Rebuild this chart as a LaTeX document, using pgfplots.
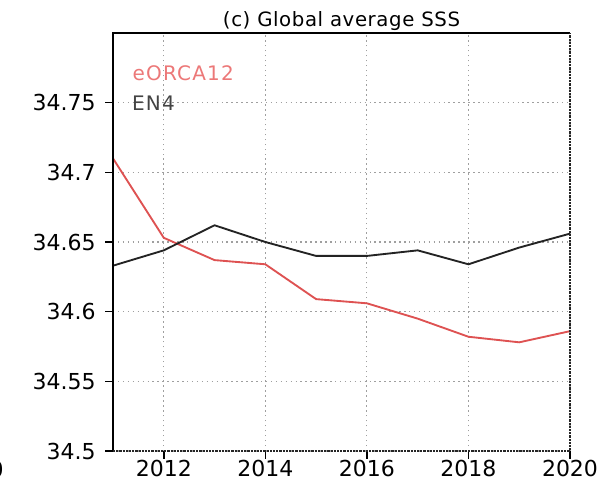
\documentclass[border=0pt]{standalone}
\usepackage{pgfplots}
\pgfplotsset{compat=1.18}
\usepackage{fontspec}
\setmainfont{DejaVu Sans}
\newfontfamily\legfont[LetterSpace=6]{DejaVu Sans}
\newfontfamily\titfont[LetterSpace=3]{DejaVu Sans}
\definecolor{orcared}{RGB}{222,82,82}
\definecolor{orcatext}{RGB}{236,120,120}
\definecolor{enblack}{RGB}{35,35,35}
\begin{document}
\begin{tikzpicture}
\begin{axis}[
  scale only axis,
  width=342.75pt, height=313.5pt,
  xmin=2011, xmax=2020, ymin=34.5, ymax=34.8,
  xtick={2012,2014,2016,2018,2020},
  xticklabels={2012,2014,2016,2018,2020},
  ytick={34.5,34.55,34.6,34.65,34.7,34.75},
  yticklabels={34.5,34.55,34.6,34.65,34.7,34.75},
  tick pos=left, tick align=outside,
  major tick length=6pt,
  tick style={black, line width=1.1pt},
  tick label style={font=\fontsize{16.5}{18}\selectfont},
  xticklabel style={yshift=3pt},
  yticklabel style={xshift=-3.5pt},
  grid=major,
  grid style={gray!75, dash pattern=on 1.1pt off 2.6pt, line width=0.8pt},
  axis line style={draw=none},
  clip=false,
]
\addplot[orcared, line width=1.4pt] coordinates {
(2011,34.710) (2012,34.653) (2013,34.637) (2014,34.634) (2015,34.609)
(2016,34.606) (2017,34.595) (2018,34.582) (2019,34.578) (2020,34.586)};
\addplot[enblack, line width=1.4pt] coordinates {
(2011,34.633) (2012,34.644) (2013,34.662) (2014,34.650) (2015,34.640)
(2016,34.640) (2017,34.644) (2018,34.634) (2019,34.646) (2020,34.656)};
\draw[black, line width=1.7pt] (rel axis cs:0,0) -- (rel axis cs:0,1) -- (rel axis cs:1,1);
\draw[black!85, line width=1.4pt, dash pattern=on 1.6pt off 0.8pt] (rel axis cs:0,0) -- (rel axis cs:1,0) -- (rel axis cs:1,1);
\node[anchor=base west, inner sep=0pt, text=orcatext, font=\legfont\fontsize{15}{17}\selectfont] at (axis cs:2011.38,34.766) {eORCA12};
\node[anchor=base west, inner sep=0pt, text=enblack!85, font=\legfont\fontsize{15}{17}\selectfont] at (axis cs:2011.37,34.7446) {EN4};
\node[anchor=base, inner sep=0pt, font=\titfont\fontsize{14.8}{16}\selectfont] at ([yshift=4.5pt]rel axis cs:0.5,1) {(c) Global average SSS};
\end{axis}
\node[anchor=base east, font=\fontsize{16.5}{18}\selectfont] at ([xshift=-78.5pt,yshift=-20pt]current axis.south west) {0};
\pgfresetboundingbox
\path[use as bounding box] ([xshift=-84.75pt,yshift=-25.5pt]current axis.south west) rectangle ([xshift=29.25pt,yshift=24.75pt]current axis.north east);
\end{tikzpicture}
\end{document}
